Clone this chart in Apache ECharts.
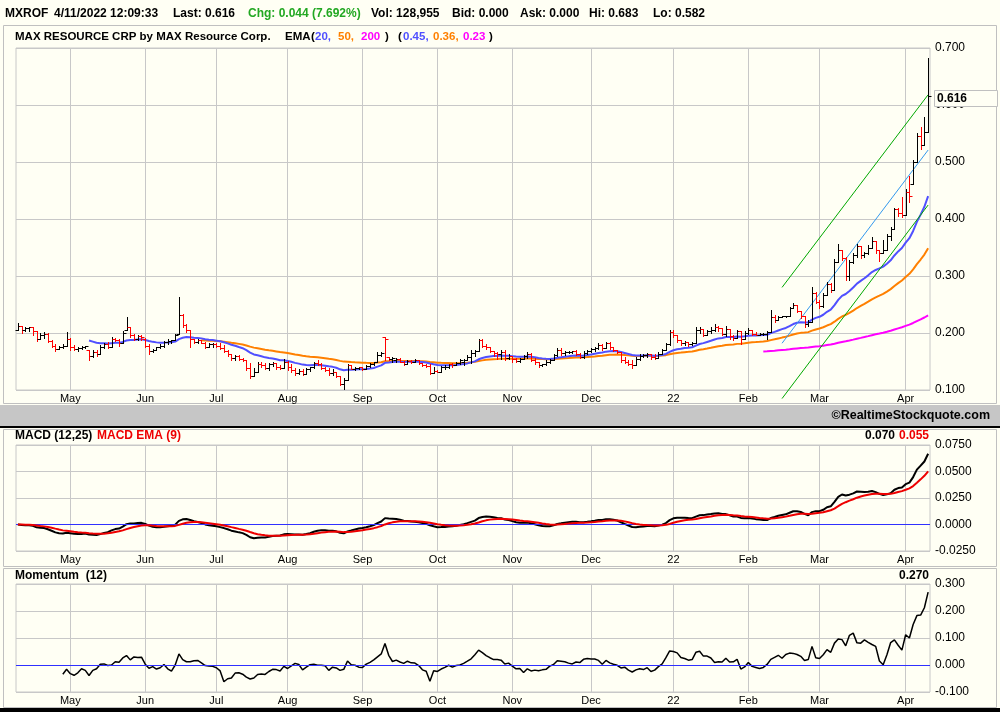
<!doctype html>
<html>
<head>
<meta charset="utf-8">
<title>MXROF</title>
<script src="https://cdn.jsdelivr.net/npm/echarts@6/dist/echarts.min.js"></script>
<style>
  html, body { margin: 0; padding: 0; background: #fffff4; }
  #main { width: 1000px; height: 712px; }
</style>
</head>
<body>
<div id="main"></div>
<script>
// daily bars, oldest first
var opens = [
  0.206,0.212,0.206,0.208,0.210,0.203,0.189,0.197,0.199,0.186,
  0.178,0.172,0.176,0.178,0.190,0.176,0.172,0.174,0.175,0.170,
  0.160,0.166,0.164,0.175,0.180,0.176,0.190,0.188,0.182,0.206,
  0.210,0.196,0.190,0.194,0.190,0.178,0.168,0.170,0.175,0.178,
  0.184,0.186,0.187,0.199,0.231,0.214,0.205,0.190,0.184,0.187,
  0.183,0.176,0.180,0.181,0.177,0.174,0.169,0.163,0.157,0.160,
  0.155,0.153,0.138,0.124,0.132,0.146,0.144,0.139,0.145,0.147,
  0.140,0.138,0.150,0.140,0.135,0.130,0.134,0.128,0.136,0.140,
  0.148,0.146,0.139,0.135,0.130,0.132,0.124,0.110,0.118,0.143,
  0.137,0.139,0.140,0.137,0.142,0.145,0.149,0.162,0.193,0.158,
  0.154,0.152,0.155,0.150,0.146,0.151,0.150,0.152,0.147,0.144,
  0.142,0.130,0.133,0.132,0.140,0.141,0.145,0.143,0.148,0.150,
  0.153,0.158,0.165,0.168,0.188,0.178,0.175,0.168,0.165,0.163,
  0.166,0.156,0.160,0.154,0.151,0.155,0.160,0.164,0.153,0.149,
  0.144,0.145,0.150,0.152,0.162,0.170,0.165,0.167,0.167,0.168,
  0.164,0.158,0.165,0.169,0.172,0.174,0.179,0.173,0.182,0.175,
  0.170,0.167,0.153,0.150,0.146,0.143,0.154,0.160,0.162,0.163,
  0.158,0.156,0.164,0.171,0.180,0.202,0.196,0.188,0.182,0.184,
  0.180,0.183,0.205,0.207,0.197,0.204,0.206,0.211,0.208,0.199,
  0.207,0.195,0.192,0.204,0.190,0.200,0.206,0.199,0.197,0.198,
  0.199,0.201,0.228,0.223,0.228,0.229,0.229,0.244,0.249,0.238,
  0.229,0.215,0.219,0.270,0.255,0.247,0.266,0.286,0.276,0.325,
  0.345,0.332,0.300,0.325,0.337,0.352,0.336,0.340,0.350,0.362,
  0.345,0.340,0.346,0.370,0.383,0.418,0.410,0.407,0.448,0.462,
  0.500,0.545,0.530,0.552
];
var highs = [
  0.217,0.212,0.210,0.211,0.210,0.204,0.200,0.201,0.200,0.188,
  0.180,0.178,0.180,0.201,0.192,0.179,0.176,0.177,0.178,0.171,
  0.170,0.170,0.179,0.182,0.185,0.193,0.192,0.190,0.203,0.228,
  0.210,0.199,0.196,0.196,0.191,0.180,0.172,0.176,0.180,0.186,
  0.190,0.188,0.199,0.263,0.233,0.215,0.206,0.190,0.190,0.188,
  0.184,0.182,0.182,0.182,0.183,0.179,0.170,0.164,0.161,0.162,
  0.157,0.153,0.147,0.138,0.150,0.150,0.147,0.148,0.150,0.147,
  0.144,0.155,0.151,0.145,0.138,0.136,0.136,0.138,0.141,0.150,
  0.152,0.147,0.141,0.138,0.136,0.132,0.124,0.121,0.145,0.143,
  0.140,0.141,0.140,0.143,0.147,0.150,0.167,0.167,0.193,0.158,
  0.158,0.157,0.156,0.151,0.152,0.153,0.154,0.152,0.148,0.146,
  0.146,0.140,0.135,0.142,0.143,0.146,0.147,0.150,0.154,0.155,
  0.161,0.170,0.170,0.190,0.189,0.181,0.176,0.168,0.166,0.170,
  0.170,0.164,0.160,0.157,0.156,0.162,0.167,0.165,0.156,0.150,
  0.146,0.152,0.154,0.164,0.173,0.173,0.168,0.168,0.169,0.170,
  0.165,0.168,0.171,0.174,0.176,0.182,0.180,0.185,0.184,0.176,
  0.171,0.167,0.158,0.152,0.152,0.158,0.164,0.164,0.165,0.164,
  0.164,0.166,0.172,0.182,0.205,0.205,0.197,0.188,0.186,0.185,
  0.185,0.211,0.210,0.207,0.206,0.210,0.215,0.212,0.208,0.212,
  0.207,0.197,0.205,0.204,0.204,0.208,0.206,0.201,0.200,0.200,
  0.203,0.240,0.231,0.229,0.229,0.230,0.246,0.253,0.249,0.238,
  0.230,0.222,0.280,0.272,0.258,0.270,0.290,0.287,0.330,0.357,
  0.345,0.333,0.328,0.340,0.357,0.352,0.342,0.354,0.368,0.362,
  0.346,0.363,0.374,0.386,0.420,0.420,0.438,0.453,0.476,0.503,
  0.550,0.561,0.579,0.683
];
var lows = [
  0.205,0.200,0.203,0.204,0.196,0.186,0.189,0.192,0.184,0.176,
  0.168,0.172,0.174,0.178,0.171,0.170,0.168,0.172,0.173,0.152,
  0.158,0.160,0.164,0.173,0.173,0.176,0.186,0.178,0.182,0.205,
  0.193,0.188,0.188,0.188,0.176,0.164,0.167,0.170,0.174,0.176,
  0.180,0.183,0.187,0.199,0.211,0.202,0.176,0.182,0.183,0.182,
  0.174,0.176,0.176,0.175,0.172,0.167,0.160,0.153,0.153,0.152,
  0.151,0.135,0.121,0.124,0.132,0.141,0.136,0.135,0.142,0.137,
  0.136,0.138,0.135,0.132,0.126,0.128,0.126,0.128,0.134,0.139,
  0.144,0.136,0.133,0.126,0.126,0.122,0.108,0.101,0.118,0.136,
  0.135,0.136,0.135,0.136,0.140,0.144,0.149,0.160,0.152,0.152,
  0.150,0.150,0.149,0.144,0.146,0.148,0.149,0.145,0.142,0.140,
  0.128,0.129,0.131,0.132,0.137,0.139,0.140,0.143,0.146,0.144,
  0.152,0.148,0.160,0.168,0.176,0.172,0.166,0.160,0.155,0.155,
  0.152,0.155,0.150,0.149,0.150,0.154,0.156,0.151,0.146,0.141,
  0.142,0.144,0.148,0.152,0.160,0.162,0.162,0.165,0.165,0.162,
  0.156,0.157,0.163,0.166,0.168,0.172,0.170,0.173,0.172,0.168,
  0.165,0.150,0.147,0.144,0.138,0.143,0.153,0.158,0.158,0.155,
  0.154,0.156,0.164,0.171,0.179,0.193,0.185,0.179,0.179,0.178,
  0.179,0.183,0.200,0.195,0.196,0.200,0.204,0.204,0.196,0.194,
  0.190,0.188,0.192,0.180,0.190,0.199,0.197,0.196,0.196,0.197,
  0.189,0.201,0.220,0.222,0.228,0.228,0.229,0.243,0.237,0.226,
  0.211,0.212,0.219,0.252,0.244,0.246,0.266,0.272,0.276,0.325,
  0.328,0.293,0.293,0.322,0.334,0.331,0.333,0.339,0.350,0.340,
  0.327,0.340,0.346,0.363,0.383,0.406,0.404,0.407,0.430,0.462,
  0.500,0.523,0.529,0.552
];
var closes = [
  0.212,0.206,0.208,0.210,0.203,0.189,0.197,0.199,0.186,0.178,
  0.172,0.176,0.178,0.190,0.176,0.172,0.174,0.175,0.177,0.160,
  0.166,0.164,0.175,0.180,0.176,0.190,0.188,0.182,0.200,0.210,
  0.196,0.190,0.194,0.193,0.178,0.168,0.170,0.175,0.178,0.184,
  0.186,0.187,0.196,0.231,0.214,0.205,0.190,0.184,0.187,0.183,
  0.176,0.180,0.181,0.177,0.174,0.169,0.163,0.157,0.160,0.155,
  0.153,0.138,0.124,0.132,0.146,0.144,0.139,0.145,0.147,0.140,
  0.138,0.150,0.140,0.135,0.130,0.134,0.128,0.136,0.140,0.148,
  0.146,0.139,0.135,0.130,0.132,0.124,0.110,0.118,0.143,0.137,
  0.139,0.140,0.137,0.142,0.145,0.149,0.162,0.165,0.190,0.154,
  0.156,0.155,0.150,0.146,0.151,0.150,0.152,0.147,0.144,0.142,
  0.130,0.133,0.132,0.140,0.141,0.145,0.143,0.148,0.152,0.153,
  0.158,0.165,0.168,0.188,0.178,0.175,0.168,0.165,0.163,0.166,
  0.156,0.160,0.154,0.151,0.155,0.160,0.164,0.153,0.149,0.144,
  0.145,0.150,0.152,0.162,0.170,0.165,0.167,0.167,0.168,0.164,
  0.158,0.165,0.169,0.172,0.174,0.179,0.173,0.182,0.175,0.170,
  0.167,0.153,0.150,0.146,0.143,0.154,0.160,0.162,0.163,0.158,
  0.156,0.164,0.171,0.180,0.202,0.196,0.188,0.182,0.184,0.180,
  0.183,0.205,0.207,0.197,0.204,0.206,0.211,0.208,0.199,0.207,
  0.195,0.192,0.204,0.190,0.200,0.206,0.199,0.197,0.198,0.199,
  0.201,0.228,0.223,0.228,0.229,0.229,0.244,0.249,0.238,0.229,
  0.215,0.219,0.270,0.255,0.247,0.266,0.286,0.276,0.325,0.345,
  0.332,0.300,0.325,0.337,0.352,0.336,0.340,0.350,0.362,0.345,
  0.340,0.346,0.370,0.383,0.418,0.410,0.407,0.448,0.440,0.500,
  0.545,0.530,0.552,0.616
];

// first bar of each month and its label
var monthStarts = [14, 34, 53, 72, 92, 112, 132, 153, 175, 195, 214, 237];
var monthNames = ['May','Jun','Jul','Aug','Sep','Oct','Nov','Dec','22','Feb','Mar','Apr'];

// value axes: min, max, step
var priceTicks = [0.1, 0.7, 0.1];
var macdTicks = [-0.025, 0.075, 0.025];
var momTicks = [-0.1, 0.3, 0.1];

// trend channel on the price panel: [startBar, startPrice, endBar, endPrice]
var upperChannel = [204, 0.280, 243, 0.618];
var lowerChannel = [204, 0.085, 243, 0.4245];
var midTrend = [204, 0.182, 243, 0.521];

var emaPeriods = [20, 50, 200];
var macdFast = 12, macdSlow = 25, macdSignal = 9, momPeriod = 12;

// ---- indicators computed from the closes ----
function emaSeeded(src, n) {
  var out = [], k = 2 / (n + 1), prev = 0, sum = 0;
  for (var i = 0; i < src.length; i++) {
    if (i < n - 1) { sum += src[i]; out.push(null); continue; }
    if (i === n - 1) { sum += src[i]; prev = sum / n; }
    else prev = src[i] * k + prev * (1 - k);
    out.push(prev);
  }
  return out;
}
function emaFull(src, n) {
  var out = [], k = 2 / (n + 1), prev = src[0];
  for (var i = 0; i < src.length; i++) {
    prev = i === 0 ? src[0] : src[i] * k + prev * (1 - k);
    out.push(prev);
  }
  return out;
}
var ema1 = emaSeeded(closes, emaPeriods[0]);
var ema2 = emaSeeded(closes, emaPeriods[1]);
var ema3 = emaSeeded(closes, emaPeriods[2]);
var fast = emaFull(closes, macdFast), slow = emaFull(closes, macdSlow);
var macd = fast.map(function (v, i) { return v - slow[i]; });
var signal = emaFull(macd, macdSignal);
var momentum = closes.map(function (c, i) { return i < momPeriod ? null : c - closes[i - momPeriod]; });

var cats = closes.map(function (c, i) { return i; });
var barData = closes.map(function (c, i) {
  return [i, opens[i], highs[i], lows[i], c, c < opens[i] ? 1 : 0];
});

var FONT = 'Liberation Sans, Arial, sans-serif';
var GRID = '#c8c8c8';

function renderOhlc(params, api) {
  var i = api.value(0);
  var hi = api.coord([i, api.value(2)]);
  var lo = api.coord([i, api.value(3)]);
  var yo = Math.round(api.coord([i, api.value(1)])[1]) + 0.5;
  var yc = Math.round(api.coord([i, api.value(4)])[1]) + 0.5;
  var x = Math.round(hi[0]) + 0.5;
  var st = { stroke: api.value(5) ? '#ff0000' : '#000000', lineWidth: 1 };
  return {
    type: 'group',
    children: [
      { type: 'line', shape: { x1: x, y1: Math.round(hi[1]), x2: x, y2: Math.round(lo[1]) + 1 }, style: st },
      { type: 'line', shape: { x1: x - 3, y1: yo, x2: x, y2: yo }, style: st },
      { type: 'line', shape: { x1: x, y1: yc, x2: x + 3, y2: yc }, style: st }
    ]
  };
}

function isMonth(idx) { return monthStarts.indexOf(idx) >= 0; }
function xAxisFor(g) {
  return {
    type: 'category', gridIndex: g, data: cats, boundaryGap: true,
    axisLine: { show: false }, axisTick: { show: false },
    axisLabel: {
      interval: function (idx) { return isMonth(idx); },
      formatter: function (v) { return monthNames[monthStarts.indexOf(Number(v))] || ''; },
      color: '#000', fontFamily: FONT, fontSize: 11, margin: 3
    },
    splitLine: { show: true, alignWithLabel: true, interval: function (idx) { return isMonth(idx); }, lineStyle: { color: GRID, width: 1 } }
  };
}
function yAxisFor(g, t, dec) {
  return {
    type: 'value', gridIndex: g, position: 'right', min: t[0], max: t[1], interval: t[2],
    axisLine: { show: false }, axisTick: { show: false },
    axisLabel: { color: '#000', fontFamily: FONT, fontSize: 12, margin: 5, formatter: function (v) { return v.toFixed(dec); } },
    splitLine: { show: true, lineStyle: { color: GRID, width: 1 } }
  };
}
function trend(d, color) {
  return {
    type: 'line', xAxisIndex: 0, yAxisIndex: 0, data: [[d[0], d[1]], [d[2], d[3]]],
    showSymbol: false, clip: false, silent: true, z: 4,
    lineStyle: { color: color, width: 1 }
  };
}
function zeroLine() {
  return { silent: true, symbol: 'none', label: { show: false }, data: [{ yAxis: 0 }], lineStyle: { color: '#3030ff', type: 'solid', width: 1 } };
}
function txt(x, y, s, color, align, size) {
  var o = { type: 'text', x: x, y: y, z: 50, silent: true,
    style: { text: s, fill: color || '#000', font: 'bold ' + (size || 12) + 'px ' + FONT, textVerticalAlign: 'middle', verticalAlign: 'middle' } };
  if (align) { o.style.textAlign = align; o.style.align = align; }
  return o;
}

var chart = echarts.init(document.getElementById('main'), null, { renderer: 'canvas' });
chart.setOption({
  backgroundColor: '#fffff4',
  animation: false,
  grid: [
    { left: 16, width: 914, top: 48, height: 342, show: true, borderColor: GRID, borderWidth: 1, outerBoundsMode: 'none' },
    { left: 16, width: 914, top: 445, height: 106, show: true, borderColor: GRID, borderWidth: 1, outerBoundsMode: 'none' },
    { left: 16, width: 914, top: 584, height: 108, show: true, borderColor: GRID, borderWidth: 1, outerBoundsMode: 'none' }
  ],
  xAxis: [xAxisFor(0), xAxisFor(1), xAxisFor(2)],
  yAxis: [yAxisFor(0, priceTicks, 3), yAxisFor(1, macdTicks, 4), yAxisFor(2, momTicks, 3)],
  series: [
    { type: 'line', name: 'EMA200', data: ema3, showSymbol: false, lineStyle: { color: '#ff00ff', width: 2 }, z: 3 },
    { type: 'line', name: 'EMA50', data: ema2, showSymbol: false, lineStyle: { color: '#ff8000', width: 2 }, z: 3 },
    { type: 'line', name: 'EMA20', data: ema1, showSymbol: false, lineStyle: { color: '#5050ff', width: 2 }, z: 3 },
    trend(upperChannel, '#00a800'),
    trend(lowerChannel, '#00a800'),
    trend(midTrend, '#3399ee'),
    { type: 'custom', name: 'price', renderItem: renderOhlc, data: barData, encode: { x: 0, y: [1, 2, 3, 4] }, z: 5 },
    { type: 'line', name: 'MACD', xAxisIndex: 1, yAxisIndex: 1, data: macd, showSymbol: false,
      lineStyle: { color: '#000', width: 2 }, z: 4, markLine: zeroLine() },
    { type: 'line', name: 'MACD EMA', xAxisIndex: 1, yAxisIndex: 1, data: signal, showSymbol: false,
      lineStyle: { color: '#ee0000', width: 2 }, z: 5 },
    { type: 'line', name: 'Momentum', xAxisIndex: 2, yAxisIndex: 2, data: momentum, showSymbol: false,
      lineStyle: { color: '#000', width: 1.5 }, z: 4, markLine: zeroLine() }
  ],
  graphic: [
    // panel frames and separators
    { type: 'rect', silent: true, z: 0, shape: { x: 3.5, y: 25.5, width: 993, height: 378 }, style: { fill: 'none', stroke: '#c0c0c0', lineWidth: 1 } },
    { type: 'rect', silent: true, z: 0, shape: { x: 0, y: 405, width: 1000, height: 21 }, style: { fill: '#c6c6c6' } },
    { type: 'rect', silent: true, z: 0, shape: { x: 0, y: 426, width: 1000, height: 2 }, style: { fill: '#000' } },
    { type: 'rect', silent: true, z: 0, shape: { x: 3.5, y: 429.5, width: 993, height: 137 }, style: { fill: 'none', stroke: '#c0c0c0', lineWidth: 1 } },
    { type: 'rect', silent: true, z: 0, shape: { x: 3.5, y: 568.5, width: 993, height: 139 }, style: { fill: 'none', stroke: '#c0c0c0', lineWidth: 1 } },
    { type: 'rect', silent: true, z: 0, shape: { x: 0, y: 708, width: 1000, height: 4 }, style: { fill: '#000' } },
    // header line
    txt(5, 14, 'MXROF'),
    txt(54, 14, '4/11/2022 12:09:33'),
    txt(173, 14, 'Last: 0.616'),
    txt(248, 14, 'Chg: 0.044 (7.692%)', '#22a822'),
    txt(371, 14, 'Vol: 128,955'),
    txt(452, 14, 'Bid: 0.000'),
    txt(520, 14, 'Ask: 0.000'),
    txt(589, 14, 'Hi: 0.683'),
    txt(653, 14, 'Lo: 0.582'),
    // price panel title
    txt(15, 37, 'MAX RESOURCE CRP by MAX Resource Corp.', '#000', null, 11.5),
    txt(285, 37, 'EMA', '#000', null, 11.5),
    txt(311, 37, '(', '#000', null, 11.5),
    txt(315, 37, '20,', '#5050ff', null, 11.5),
    txt(338, 37, '50,', '#ff8000', null, 11.5),
    txt(361, 37, '200', '#ff00ff', null, 11.5),
    txt(385, 37, ')', '#000', null, 11.5),
    txt(398, 37, '(', '#000', null, 11.5),
    txt(403, 37, '0.45,', '#5050ff', null, 11.5),
    txt(433, 37, '0.36,', '#ff8000', null, 11.5),
    txt(463, 37, '0.23', '#ff00ff', null, 11.5),
    txt(489, 37, ')', '#000', null, 11.5),
    // last price box
    { type: 'rect', silent: true, z: 60, shape: { x: 934.5, y: 90.5, width: 63, height: 16 }, style: { fill: '#fffff4', stroke: '#c0c0c0', lineWidth: 1 } },
    Object.assign(txt(937, 98.5, '0.616'), { z: 61 }),
    // separator band text
    txt(990, 416, '\u00a9RealtimeStockquote.com', '#000', 'right', 12.5),
    // lower panel titles
    txt(15, 436, 'MACD (12,25)'),
    txt(97, 436, 'MACD EMA (9)', '#ee0000'),
    txt(895, 436, '0.070', '#000', 'right'),
    txt(929, 436, '0.055', '#ee0000', 'right'),
    txt(15, 576, 'Momentum  (12)'),
    txt(929, 576, '0.270', '#000', 'right')
  ]
});
</script>
</body>
</html>
